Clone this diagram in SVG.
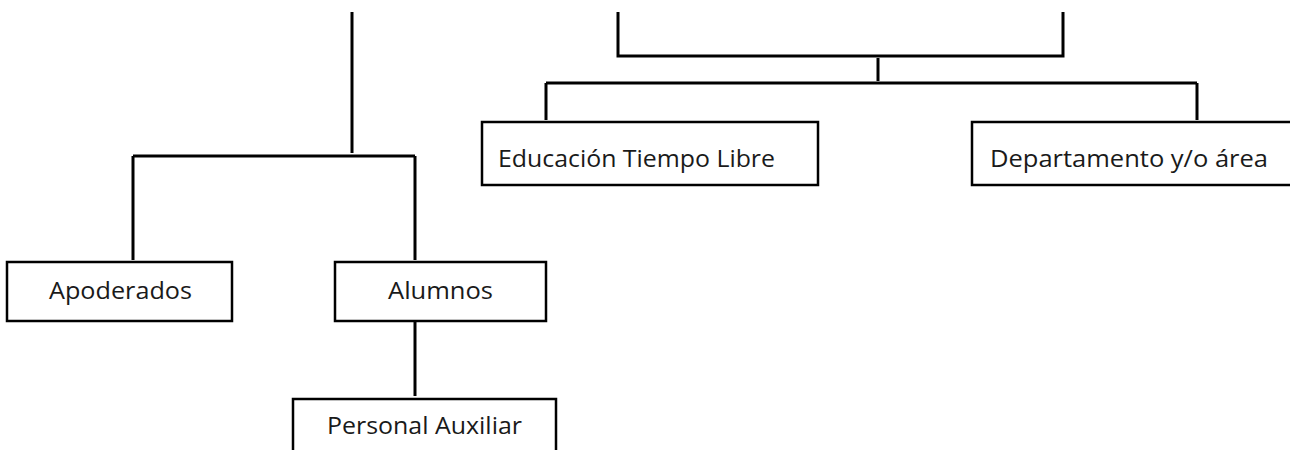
<svg xmlns="http://www.w3.org/2000/svg" width="1290" height="450" viewBox="0 0 1290 450">
<style>
.box{fill:#fff;stroke:#000;stroke-width:2.5}
.ln{stroke:#000;stroke-width:3;fill:none}
.t{font-family:"Open Sans","Noto Sans",sans-serif;font-size:24px;fill:#1a1a1a}
</style>
<rect width="1290" height="450" fill="#fff"/>
<g id="connectors">
<path class="ln" d="M352 12V153"/>
<path class="ln" d="M133 156H415M133 156V260M415 156V260"/>
<path class="ln" d="M415 322V396"/>
<path class="ln" d="M618 12V56H1063V12"/>
<path class="ln" d="M878 58V81"/>
<path class="ln" d="M546 83H1197M546 83V120M1197 83V120"/>
</g>
<g id="node-educacion"><rect class="box" x="482" y="122" width="336" height="63"/><text class="t" x="498" y="167" textLength="277" lengthAdjust="spacingAndGlyphs">Educación Tiempo Libre</text></g>
<g id="node-departamento"><rect class="box" x="972" y="122" width="330" height="63"/><text class="t" x="990" y="167" textLength="278" lengthAdjust="spacingAndGlyphs">Departamento y/o área</text></g>
<g id="node-apoderados"><rect class="box" x="7" y="262" width="225" height="59"/><text class="t" x="49" y="299" textLength="143" lengthAdjust="spacingAndGlyphs">Apoderados</text></g>
<g id="node-alumnos"><rect class="box" x="335" y="262" width="211" height="59"/><text class="t" x="388" y="299" textLength="105" lengthAdjust="spacingAndGlyphs">Alumnos</text></g>
<g id="node-personal"><rect class="box" x="293" y="399" width="263" height="60"/><text class="t" x="327" y="434" textLength="195" lengthAdjust="spacingAndGlyphs">Personal Auxiliar</text></g>
</svg>
